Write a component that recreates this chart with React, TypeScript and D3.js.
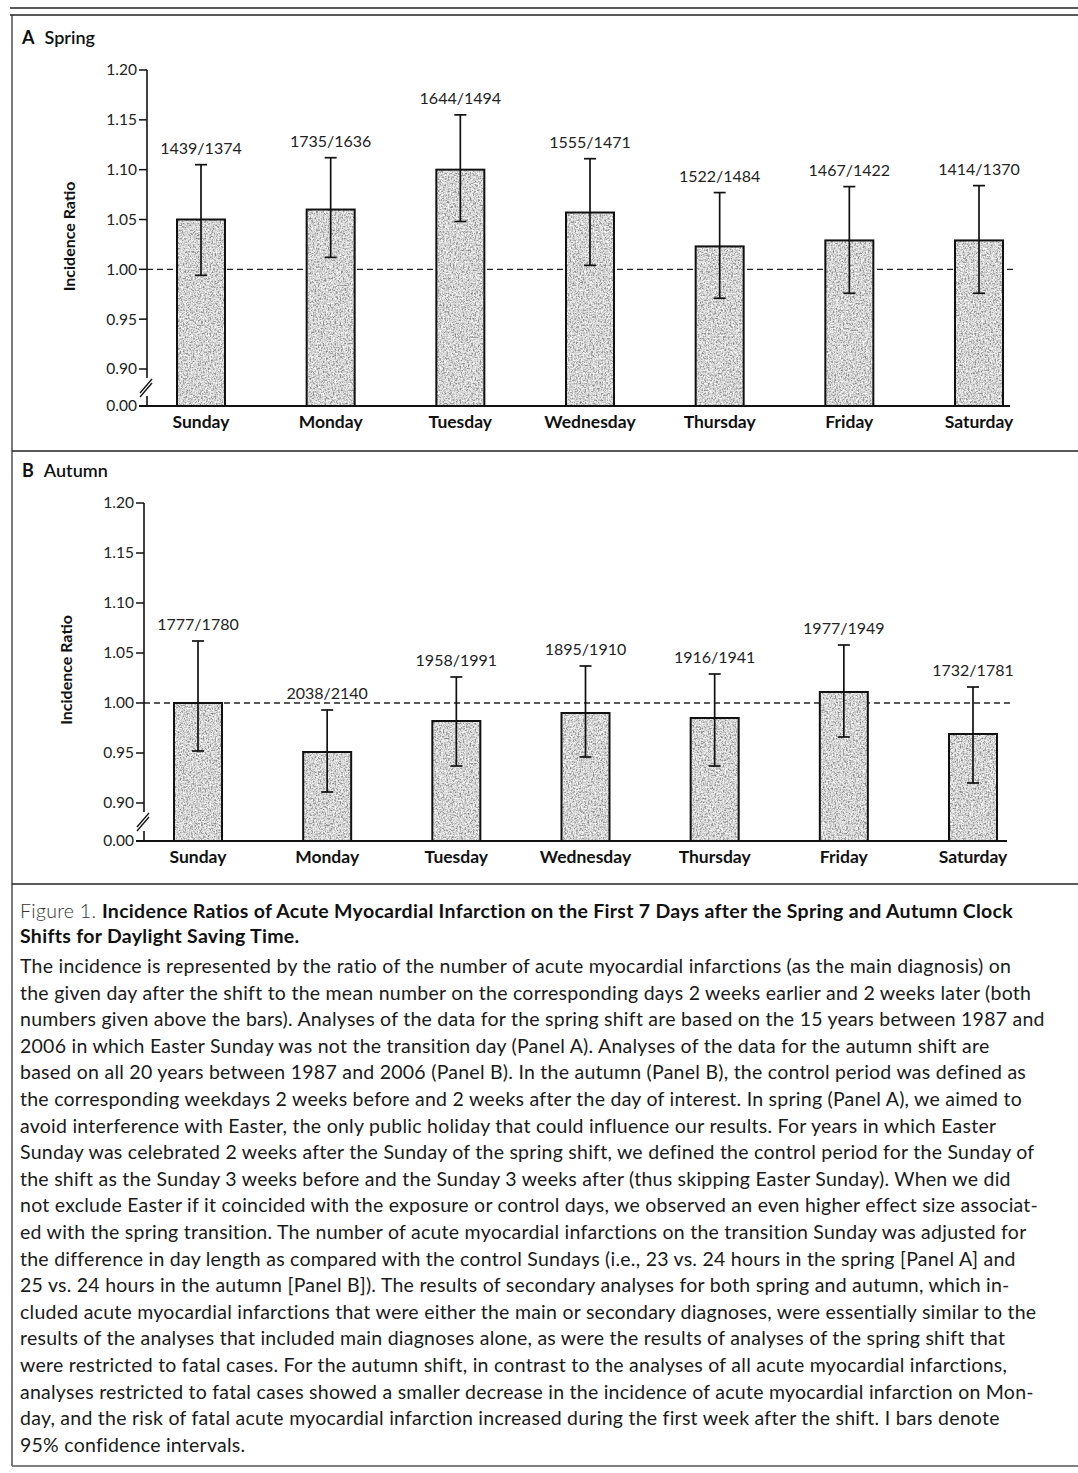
import * as d3 from "d3";
import React from "react";

// weekdays after the clock shift
const days = ["Sunday", "Monday", "Tuesday", "Wednesday", "Thursday", "Friday", "Saturday"];

// Panel A, spring shift
const springRatio = [1.05, 1.06, 1.1, 1.057, 1.023, 1.029, 1.029];
const springLower = [0.994, 1.012, 1.048, 1.004, 0.971, 0.976, 0.976];
const springUpper = [1.105, 1.112, 1.155, 1.111, 1.077, 1.083, 1.084];
const springCounts = ["1439/1374", "1735/1636", "1644/1494", "1555/1471", "1522/1484", "1467/1422", "1414/1370"];

// Panel B, autumn shift
const autumnRatio = [1.0, 0.951, 0.982, 0.99, 0.985, 1.011, 0.969];
const autumnLower = [0.952, 0.911, 0.937, 0.946, 0.937, 0.966, 0.92];
const autumnUpper = [1.062, 0.993, 1.026, 1.037, 1.029, 1.058, 1.016];
const autumnCounts = ["1777/1780", "2038/2140", "1958/1991", "1895/1910", "1916/1941", "1977/1949", "1732/1781"];

const yTicks = [0, 0.9, 0.95, 1.0, 1.05, 1.1, 1.15, 1.2];

const captionLines = [
  "The incidence is represented by the ratio of the number of acute myocardial infarctions (as the main diagnosis) on",
  "the given day after the shift to the mean number on the corresponding days 2 weeks earlier and 2 weeks later (both",
  "numbers given above the bars). Analyses of the data for the spring shift are based on the 15 years between 1987 and",
  "2006 in which Easter Sunday was not the transition day (Panel A). Analyses of the data for the autumn shift are",
  "based on all 20 years between 1987 and 2006 (Panel B). In the autumn (Panel B), the control period was defined as",
  "the corresponding weekdays 2 weeks before and 2 weeks after the day of interest. In spring (Panel A), we aimed to",
  "avoid interference with Easter, the only public holiday that could influence our results. For years in which Easter",
  "Sunday was celebrated 2 weeks after the Sunday of the spring shift, we defined the control period for the Sunday of",
  "the shift as the Sunday 3 weeks before and the Sunday 3 weeks after (thus skipping Easter Sunday). When we did",
  "not exclude Easter if it coincided with the exposure or control days, we observed an even higher effect size associat-",
  "ed with the spring transition. The number of acute myocardial infarctions on the transition Sunday was adjusted for",
  "the difference in day length as compared with the control Sundays (i.e., 23 vs. 24 hours in the spring [Panel A] and",
  "25 vs. 24 hours in the autumn [Panel B]). The results of secondary analyses for both spring and autumn, which in-",
  "cluded acute myocardial infarctions that were either the main or secondary diagnoses, were essentially similar to the",
  "results of the analyses that included main diagnoses alone, as were the results of analyses of the spring shift that",
  "were restricted to fatal cases. For the autumn shift, in contrast to the analyses of all acute myocardial infarctions,",
  "analyses restricted to fatal cases showed a smaller decrease in the incidence of acute myocardial infarction on Mon-",
  "day, and the risk of fatal acute myocardial infarction increased during the first week after the shift. I bars denote",
  "95% confidence intervals.",
];

const FONT = "Lato, 'Open Sans', sans-serif";

type PanelProps = {
  letter: string
  title: string
  ratio: number[]
  lower: number[]
  upper: number[]
  counts: string[]
  top: number
  brk: number
  zero: number
  axisX: number
  xFrom: number
  xTo: number
  lineEnd: number
  labelY: number
}

const Panel: React.FC<PanelProps> = (p) => {
  // polylinear scale handles the broken axis between 0.00 and 0.90
  const y = d3.scaleLinear([0, 0.9, 1.2], [p.zero, p.brk, p.top]);
  const x = d3.scalePoint(days, [p.xFrom, p.xTo]);
  const bw = 48;
  const cap = 6;

  return (
    <g fontFamily={FONT}>
      <text x={22} y={p.top - 26} fontSize={18} fontWeight={700} fill="#111">
        {p.letter}
        <tspan dx={10} fontWeight={600}>{p.title}</tspan>
      </text>

      <text transform={`translate(${p.axisX - 72},${(y(1.2) + y(0.9)) / 2 + 17}) rotate(-90)`}
        textAnchor="middle" fontSize={16} fontWeight={700} fill="#111">Incidence Ratio</text>

      {/* reference line */}
      <line x1={p.axisX} x2={p.lineEnd} y1={y(1)} y2={y(1)} stroke="#222" strokeWidth={1.4} strokeDasharray="6 4" />

      {days.map((d, i) => {
        const cx = x(d)!;
        const top = y(p.ratio[i]);
        const h = y(0) - top;
        return (
          <g key={d}>
            <rect x={cx - bw / 2} y={top} width={bw} height={h} fill="#e2e2e2" filter="url(#stipple)" />
            <rect x={cx - bw / 2} y={top} width={bw} height={h} fill="none" stroke="#111" strokeWidth={2} />
            <line x1={cx} x2={cx} y1={y(p.upper[i])} y2={y(p.lower[i])} stroke="#111" strokeWidth={1.7} />
            <line x1={cx - cap} x2={cx + cap} y1={y(p.upper[i])} y2={y(p.upper[i])} stroke="#111" strokeWidth={1.7} />
            <line x1={cx - cap} x2={cx + cap} y1={y(p.lower[i])} y2={y(p.lower[i])} stroke="#111" strokeWidth={1.7} />
            <text x={cx} y={y(p.upper[i]) - 11} textAnchor="middle" fontSize={16} fill="#222">{p.counts[i]}</text>
            <text x={cx} y={p.labelY} textAnchor="middle" fontSize={17.5} fontWeight={700} fill="#111">{d}</text>
          </g>
        );
      })}

      {/* y axis with break */}
      <line x1={p.axisX} x2={p.axisX} y1={y(1.2)} y2={y(0.9) + 9} stroke="#111" strokeWidth={1.6} />
      <line x1={p.axisX} x2={p.axisX} y1={y(0) - 10} y2={y(0)} stroke="#111" strokeWidth={1.6} />
      <line x1={p.axisX - 7} x2={p.axisX + 5} y1={y(0.9) + 24} y2={y(0.9) + 10} stroke="#111" strokeWidth={1.3} />
      <line x1={p.axisX - 7} x2={p.axisX + 5} y1={y(0.9) + 28} y2={y(0.9) + 14} stroke="#111" strokeWidth={1.3} />
      <line x1={p.axisX - 8} x2={p.lineEnd - 5} y1={y(0)} y2={y(0)} stroke="#111" strokeWidth={1.8} />
      {yTicks.map(t => (
        <g key={t}>
          <line x1={p.axisX - 8} x2={p.axisX} y1={y(t)} y2={y(t)} stroke="#111" strokeWidth={1.5} />
          <text x={p.axisX - 10} y={y(t)} dy="0.35em" textAnchor="end" fontSize={15.5} fill="#222">{t.toFixed(2)}</text>
        </g>
      ))}
    </g>
  );
};

const App: React.FC = () => {
  const W = 1078, H = 1473;
  return (
    <svg width={W} height={H} style={{ position: "absolute", left: 0, top: 0, background: "#fff" }}>
      <defs>
        <filter id="stipple" x="0" y="0" width="1" height="1">
          <feTurbulence type="fractalNoise" baseFrequency="0.6" numOctaves="2" seed="4" result="noise" />
          <feColorMatrix in="noise" type="matrix"
            values="0 0 0 0 0.25  0 0 0 0 0.25  0 0 0 0 0.25  1 0 0 0 0" result="dots0" />
          <feComponentTransfer in="dots0" result="dots">
            <feFuncA type="discrete" tableValues="0 0 0 0 0.4 0.8 1 1" />
          </feComponentTransfer>
          <feColorMatrix in="noise" type="matrix"
            values="0 0 0 0 1  0 0 0 0 1  0 0 0 0 1  0 1 0 0 0" result="white0" />
          <feComponentTransfer in="white0" result="white">
            <feFuncA type="discrete" tableValues="0 0 0 0 0 0.9 1 1" />
          </feComponentTransfer>
          <feMerge>
            <feMergeNode in="SourceGraphic" />
            <feMergeNode in="white" />
            <feMergeNode in="dots" />
          </feMerge>
        </filter>
      </defs>

      {/* frame */}
      <line x1={10} x2={W} y1={8} y2={8} stroke="#222" strokeWidth={1.5} />
      <line x1={10} x2={W} y1={15} y2={15} stroke="#222" strokeWidth={1.5} />
      <line x1={12} x2={12} y1={15} y2={1466} stroke="#333" strokeWidth={1.3} />
      <line x1={12} x2={W} y1={451} y2={451} stroke="#222" strokeWidth={1.5} />
      <line x1={12} x2={W} y1={884} y2={884} stroke="#222" strokeWidth={1.5} />
      <line x1={12} x2={W} y1={1466} y2={1466} stroke="#555" strokeWidth={1.3} />

      <Panel letter="A" title="Spring" ratio={springRatio} lower={springLower} upper={springUpper}
        counts={springCounts} top={70} brk={369} zero={406} axisX={147} xFrom={201} xTo={979}
        lineEnd={1015} labelY={428} />
      <Panel letter="B" title="Autumn" ratio={autumnRatio} lower={autumnLower} upper={autumnUpper}
        counts={autumnCounts} top={503} brk={803} zero={841} axisX={144} xFrom={198} xTo={973}
        lineEnd={1012} labelY={863} />

      <g fontFamily={FONT} fill="#111">
        <text x={20} y={918} fontSize={19.5} letterSpacing={0.3}>
          <tspan fontWeight={300} fill="#333">Figure 1. </tspan>
          <tspan fontWeight={700}>Incidence Ratios of Acute Myocardial Infarction on the First 7 Days after the Spring and Autumn Clock</tspan>
        </text>
        <text x={20} y={943} fontSize={19.5} letterSpacing={0.3} fontWeight={700}>Shifts for Daylight Saving Time.</text>
        {captionLines.map((l, i) => (
          <text key={i} x={20} y={973 + i * 26.6} fontSize={19.5} letterSpacing={0.25} fill="#1a1a1a">{l}</text>
        ))}
      </g>
    </svg>
  );
};

export default App;
